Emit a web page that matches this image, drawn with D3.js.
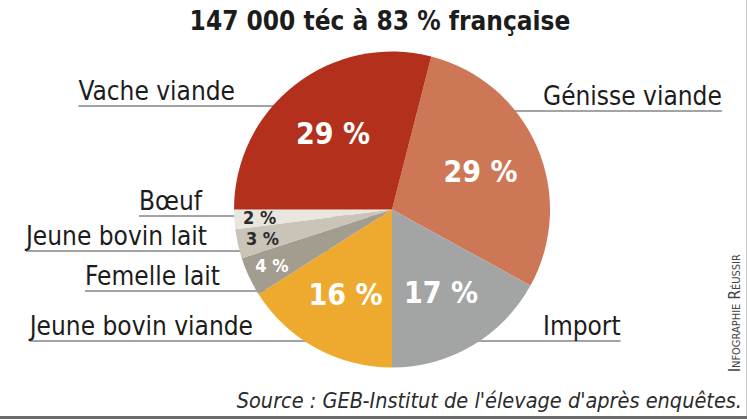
<!DOCTYPE html>
<html>
<head>
<meta charset="utf-8">
<script src="https://cdn.jsdelivr.net/npm/d3@7"></script>
<style>
  body { margin: 0; background: #fff; }
  text { font-family: "DejaVu Sans Condensed", "DejaVu Sans", sans-serif; font-stretch: condensed; }
</style>
</head>
<body>
<div id="chart"></div>
<script>
// slices, clockwise from the top-right
const categories = ["Génisse viande", "Import", "Jeune bovin viande", "Femelle lait", "Jeune bovin lait", "Bœuf", "Vache viande"];
const shares = [29, 17, 16, 4, 3, 2, 29];
const sliceColors = ["#cd7757", "#a3a5a5", "#eeaa2f", "#a39d90", "#c9c4b7", "#e9e6df", "#b3301d"];
const percentInk = ["#fff", "#fff", "#fff", "#fff", "#2b2b2b", "#2b2b2b", "#fff"];

const title = "147 000 téc à 83 % française";
const source = "Source : GEB-Institut de l'élevage d'après enquêtes.";
const credit = "Infographie Réussir";

const width = 747,
    height = 419,
    radius = 158,
    cx = 392,
    cy = 209.5;

// where the name of each slice sits (baseline), left ones are right-aligned
const callouts = {
    "Vache viande": { side: "left", x: 235, y: 100 },
    "Bœuf": { side: "left", x: 202, y: 210 },
    "Jeune bovin lait": { side: "left", x: 207, y: 245 },
    "Femelle lait": { side: "left", x: 220, y: 285 },
    "Jeune bovin viande": { side: "left", x: 253, y: 335 },
    "Génisse viande": { side: "right", x: 543, y: 105 },
    "Import": { side: "right", x: 543, y: 335 }
};

const data = categories.map((c, i) => ({ name: c, value: shares[i], color: sliceColors[i], ink: percentInk[i] }));

const svg = d3.select("#chart")
    .append("svg")
    .attr("width", width)
    .attr("height", height);

// frame bits at the right and bottom
svg.append("line")
    .attr("x1", width - 0.5).attr("x2", width - 0.5)
    .attr("y1", 0).attr("y2", height)
    .attr("stroke", "#c8c8c8").attr("stroke-width", 1);
svg.append("line")
    .attr("x1", 0).attr("x2", width)
    .attr("y1", height - 1.5).attr("y2", height - 1.5)
    .attr("stroke", "#6b6b6b").attr("stroke-width", 3);

svg.append("text")
    .attr("x", 380)
    .attr("y", 30)
    .attr("text-anchor", "middle")
    .style("font-size", "26px")
    .style("font-weight", "bold")
    .attr("fill", "#1c1c1c")
    .text(title);

// callout names + underlines (lines go under the pie)
const calloutG = svg.append("g");
data.forEach(d => {
    const c = callouts[d.name];
    const t = calloutG.append("text")
        .attr("x", c.x)
        .attr("y", c.y)
        .attr("text-anchor", c.side === "left" ? "end" : "start")
        .style("font-size", "26px")
        .attr("fill", "#1c1c1c")
        .text(d.name);
    const len = t.node().getComputedTextLength();
    const x1 = c.side === "left" ? c.x - len : cx;
    const x2 = c.side === "left" ? cx : c.x + len;
    calloutG.insert("line", "text")
        .attr("x1", x1).attr("x2", x2)
        .attr("y1", c.y + 6).attr("y2", c.y + 6)
        .attr("stroke", "#858585")
        .attr("stroke-width", 1.6);
});

const pie = d3.pie()
    .sort(null)
    .value(d => d.value)
    .startAngle(0.04 * 2 * Math.PI)
    .endAngle(1.04 * 2 * Math.PI);

const arcs = pie(data);

const arc = d3.arc().innerRadius(0).outerRadius(radius);
const bigLabelArc = d3.arc().innerRadius(radius * 0.61).outerRadius(radius * 0.61);
const smallLabelArc = d3.arc().innerRadius(radius * 0.84).outerRadius(radius * 0.84);

const g = svg.append("g")
    .attr("transform", "translate(" + cx + "," + cy + ")");

g.selectAll("path")
    .data(arcs)
    .enter()
    .append("path")
    .attr("d", arc)
    .attr("fill", d => d.data.color);

g.selectAll("text.pct")
    .data(arcs)
    .enter()
    .append("text")
    .attr("class", "pct")
    .attr("transform", d => "translate(" + (d.data.value >= 10 ? bigLabelArc : smallLabelArc).centroid(d) + ")")
    .attr("dy", "0.36em")
    .attr("text-anchor", "middle")
    .style("font-weight", "bold")
    .style("font-size", d => d.data.value >= 10 ? "30px" : "18px")
    .attr("fill", d => d.data.ink)
    .text(d => d.data.value + " %");

svg.append("text")
    .attr("x", 742)
    .attr("y", 408)
    .attr("text-anchor", "end")
    .style("font-size", "21.5px")
    .style("font-style", "italic")
    .attr("fill", "#2b2b2b")
    .text(source);

svg.append("text")
    .attr("transform", "translate(740,372) rotate(-90)")
    .style("font-size", "15px")
    .style("font-variant", "small-caps")
    .attr("fill", "#444")
    .text(credit);
</script>
</body>
</html>
